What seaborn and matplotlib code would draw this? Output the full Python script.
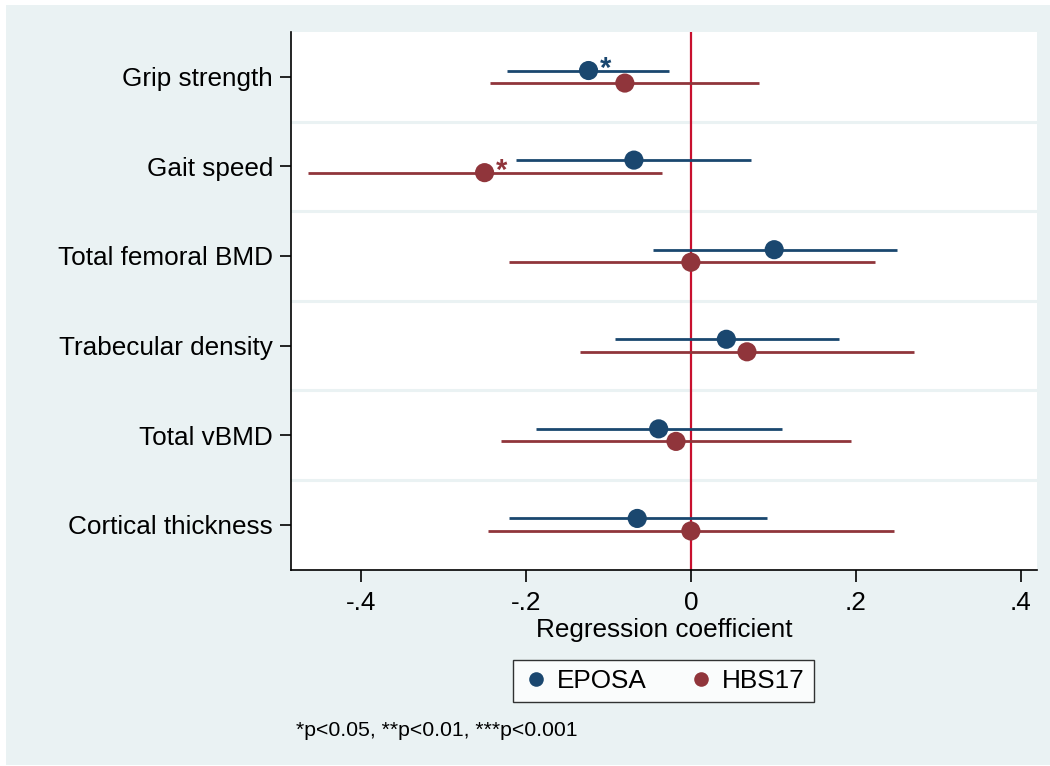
import numpy as np
import pandas as pd
import matplotlib
matplotlib.use("Agg")
import matplotlib.pyplot as plt
import seaborn as sns
from matplotlib.lines import Line2D
from matplotlib.patches import Rectangle

# ---- data ----
outcomes = ["Grip strength", "Gait speed", "Total femoral BMD",
            "Trabecular density", "Total vBMD", "Cortical thickness"]
studies = ["EPOSA", "HBS17"]

eposa_coef = [-0.124, -0.069, 0.101, 0.043, -0.039, -0.065]
eposa_lo = [-0.223, -0.212, -0.046, -0.092, -0.188, -0.221]
eposa_hi = [-0.026, 0.073, 0.250, 0.179, 0.110, 0.092]
eposa_sig = ["*", "", "", "", "", ""]

hbs_coef = [-0.080, -0.250, 0.000, 0.068, -0.018, 0.000]
hbs_lo = [-0.244, -0.464, -0.221, -0.134, -0.230, -0.246]
hbs_hi = [0.083, -0.035, 0.223, 0.270, 0.194, 0.246]
hbs_sig = ["", "*", "", "", "", ""]

xticks = [-0.4, -0.2, 0.0, 0.2, 0.4]
xticklabels = ["-.4", "-.2", "0", ".2", ".4"]

colors = {"EPOSA": "#1A476F", "HBS17": "#90353B"}
offsets = {"EPOSA": -0.07, "HBS17": 0.07}
bg = "#EAF2F3"
refcol = "#C8102E"

rows = []
for i, o in enumerate(outcomes):
    rows.append(dict(outcome=o, idx=i, study="EPOSA", coef=eposa_coef[i],
                     lo=eposa_lo[i], hi=eposa_hi[i], sig=eposa_sig[i]))
    rows.append(dict(outcome=o, idx=i, study="HBS17", coef=hbs_coef[i],
                     lo=hbs_lo[i], hi=hbs_hi[i], sig=hbs_sig[i]))
df = pd.DataFrame(rows)
df["ypos"] = df["idx"] + df["study"].map(offsets)

sns.set_theme(style="white")
plt.rcParams["font.family"] = ["Liberation Sans", "DejaVu Sans"]
plt.rcParams.update({"text.color": "black", "axes.labelcolor": "black",
                     "xtick.color": "black", "ytick.color": "black"})

fig = plt.figure(figsize=(10.5, 7.66), dpi=100)
fig.patch.set_facecolor("white")
fig.patches.append(Rectangle((6 / 1050, 0.0013), 1 - 6 / 1050, 1 - 5 / 766 - 0.0013,
                             transform=fig.transFigure, facecolor=bg,
                             edgecolor="none", zorder=-10))

ax = fig.add_axes([291 / 1050, 1 - 569.5 / 766, (1037 - 291) / 1050, (569.5 - 32) / 766])
ax.set_facecolor("white")

# grid lines between categories
for b in np.arange(0.5, len(outcomes) - 0.5, 1.0):
    ax.axhline(b, color=bg, lw=2.2, zorder=0)

# reference line at zero
ax.axvline(0, color=refcol, lw=1.6, zorder=1)

# confidence intervals
for s in studies:
    d = df[df.study == s]
    ax.hlines(d["ypos"], d["lo"], d["hi"], color=colors[s], lw=2.0, zorder=2)

sns.scatterplot(data=df, x="coef", y="ypos", hue="study", palette=colors,
                s=190, edgecolor="none", linewidth=0, legend=False, ax=ax, zorder=3)

# significance stars
for _, r in df[df.sig != ""].iterrows():
    ax.annotate(r["sig"], (r["coef"], r["ypos"]), xytext=(8, 1),
                textcoords="offset points", color=colors[r["study"]],
                fontsize=21, fontweight="bold", ha="left", va="center")

ax.set_ylim(len(outcomes) - 0.5, -0.5)
ax.set_xlim(-0.4846, 0.4195)
ax.set_yticks(range(len(outcomes)))
ax.set_yticklabels(outcomes, fontsize=18.8)
ax.set_xticks(xticks)
ax.set_xticklabels(xticklabels, fontsize=18.8)
ax.set_ylabel("")
ax.set_xlabel("Regression coefficient", fontsize=18.8, labelpad=2)

for side in ["top", "right"]:
    ax.spines[side].set_visible(False)
for side in ["left", "bottom"]:
    ax.spines[side].set_color("black")
    ax.spines[side].set_linewidth(1.2)
ax.tick_params(axis="y", left=True, direction="out", length=8, width=1.2, pad=5,
               color="black", labelcolor="black")
ax.tick_params(axis="x", bottom=True, direction="out", length=8.5, width=1.2, pad=7,
               color="black", labelcolor="black")
ax.grid(False)

handles = [Line2D([0], [0], marker="o", linestyle="none", markersize=10.5,
                  markerfacecolor=colors[s], markeredgecolor="none") for s in studies]
leg = fig.legend(handles, studies, loc="center", ncol=2,
                 bbox_to_anchor=(663.7 / 1050, 1 - 681 / 766),
                 fontsize=18.8, frameon=True, fancybox=False,
                 handletextpad=0.3, columnspacing=1.6, handlelength=1.0,
                 borderpad=0.35)
leg.get_frame().set_edgecolor("black")
leg.get_frame().set_linewidth(1.0)
leg.get_frame().set_facecolor("white")
for t in leg.get_texts():
    t.set_color("black")

fig.text(296 / 1050, 1 - 730 / 766, "*p<0.05, **p<0.01, ***p<0.001",
         fontsize=15.3, ha="left", va="center", color="black")

fig.savefig("out.png", dpi=100, facecolor=fig.get_facecolor())
